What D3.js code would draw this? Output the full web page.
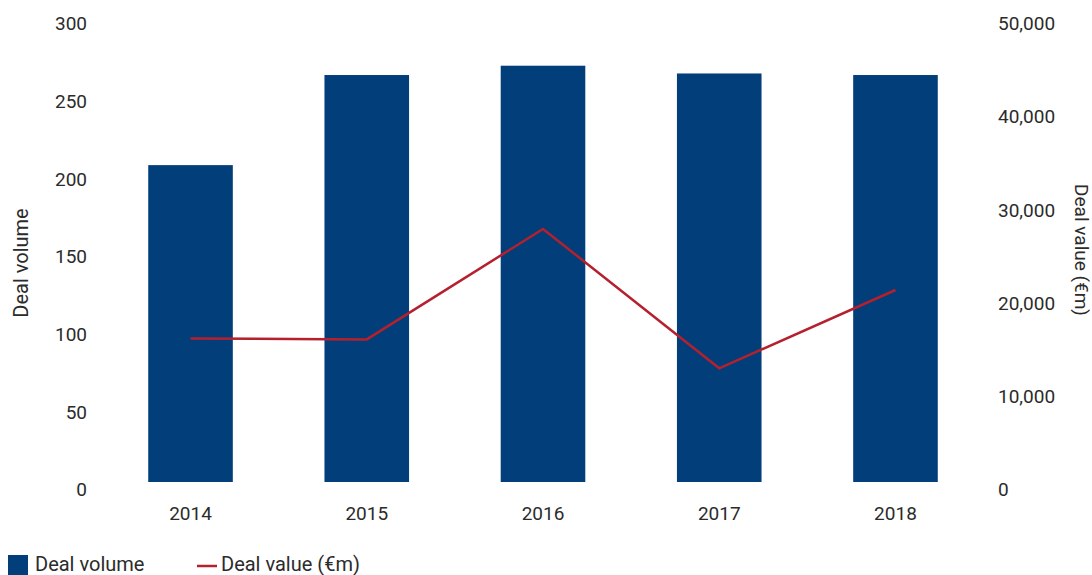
<!DOCTYPE html>
<html>
<head>
<meta charset="utf-8">
<script src="https://cdn.jsdelivr.net/npm/d3@7"></script>
<style>
  body { margin: 0; background: #fff; }
  svg text { font-family: Roboto, "Noto Sans", sans-serif; fill: #2b2b2b; }
</style>
</head>
<body>
<div id="chart"></div>
<script>
const years = ["2014", "2015", "2016", "2017", "2018"];
const dealVolume = [204, 262, 268, 263, 262];
const dealValue = [15400, 15300, 27150, 12200, 20600];
const volumeTicks = [0, 50, 100, 150, 200, 250, 300];
const valueTicks = [0, 10000, 20000, 30000, 40000, 50000];

const width = 1092, height = 575;
const barColor = "#023f7a", lineColor = "#b5202e";
const fontSize = 19;

const svg = d3.select("#chart").append("svg")
    .attr("width", width)
    .attr("height", height);

// --- scales ---
const x = d3.scaleBand()
    .domain(years)
    .range([102.4, 983.6])
    .paddingInner(0.52)
    .paddingOuter(0.26);

const yLeft = d3.scaleLinear().domain([0, 300]).range([482, 16]);
const yRight = d3.scaleLinear().domain([0, 50000]).range([482, 16]);

// --- bars ---
svg.selectAll(".bar")
    .data(years)
    .enter().append("rect")
    .attr("class", "bar")
    .attr("x", d => x(d))
    .attr("width", x.bandwidth())
    .attr("y", (d, i) => yLeft(dealVolume[i]))
    .attr("height", (d, i) => yLeft(0) - yLeft(dealVolume[i]))
    .attr("fill", barColor);

// --- line ---
const line = d3.line()
    .x((d, i) => x(years[i]) + x.bandwidth() / 2)
    .y(d => yRight(d));

svg.append("path")
    .datum(dealValue)
    .attr("d", line)
    .attr("fill", "none")
    .attr("stroke", lineColor)
    .attr("stroke-width", 2.5);

// --- axes (labels only) ---
const leftAxis = svg.append("g")
    .attr("transform", "translate(87,0)")
    .call(d3.axisLeft(yLeft).tickValues(volumeTicks).tickSize(0).tickPadding(0));
leftAxis.select(".domain").remove();
leftAxis.selectAll("text")
    .attr("dy", "0.72em")
    .style("font-size", fontSize + "px");

const rightAxis = svg.append("g")
    .attr("transform", "translate(998,0)")
    .call(d3.axisRight(yRight).tickValues(valueTicks).tickSize(0).tickPadding(0)
        .tickFormat(d3.format(",")));
rightAxis.select(".domain").remove();
rightAxis.selectAll("text")
    .attr("dy", "0.72em")
    .style("font-size", fontSize + "px");

const bottomAxis = svg.append("g")
    .attr("transform", "translate(0,506)")
    .call(d3.axisBottom(x).tickSize(0).tickPadding(0));
bottomAxis.select(".domain").remove();
bottomAxis.selectAll("text")
    .attr("dy", "0.72em")
    .style("font-size", fontSize + "px");

// --- axis titles ---
svg.append("text")
    .attr("transform", "translate(28,263) rotate(-90)")
    .attr("text-anchor", "middle")
    .style("font-size", "20px")
    .text("Deal volume");

svg.append("text")
    .attr("transform", "translate(1075,250) rotate(90)")
    .attr("text-anchor", "middle")
    .style("font-size", "19px")
    .text("Deal value (€m)");

// --- legend ---
const legend = svg.append("g");
legend.append("rect")
    .attr("x", 8).attr("y", 555)
    .attr("width", 20).attr("height", 20)
    .attr("fill", barColor);
legend.append("text")
    .attr("x", 35).attr("y", 571)
    .style("font-size", "20px")
    .text("Deal volume");
legend.append("line")
    .attr("x1", 197).attr("x2", 217)
    .attr("y1", 566).attr("y2", 566)
    .attr("stroke", lineColor)
    .attr("stroke-width", 2.5);
legend.append("text")
    .attr("x", 221).attr("y", 571)
    .style("font-size", "20px")
    .text("Deal value (€m)");
</script>
</body>
</html>
